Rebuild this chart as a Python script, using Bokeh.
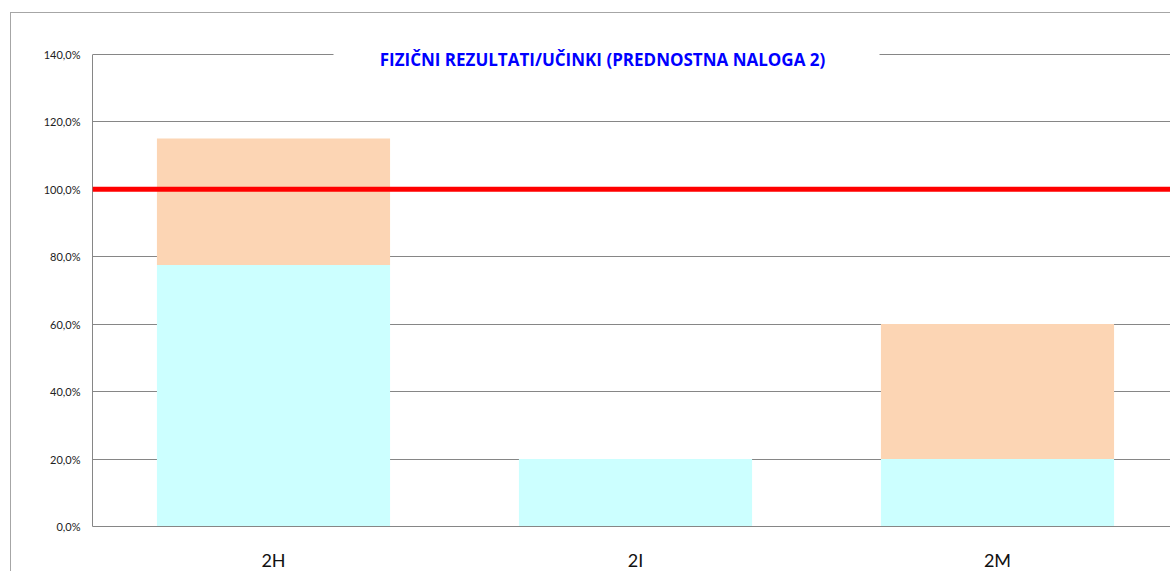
from bokeh.plotting import figure
from bokeh.models import Range1d, FixedTicker, Span, Label, BoxAnnotation, ColumnDataSource, InlineStyleSheet
from bokeh.embed import file_html
from bokeh.resources import INLINE

categories = ["2H", "2I", "2M"]
achieved = [77.5, 20.0, 20.0]
planned_extra = [37.5, 0.0, 40.0]
target = 100.0
y_ticks = [0, 20, 40, 60, 80, 100, 120, 140]
y_tick_labels = ["0,0%", "20,0%", "40,0%", "60,0%", "80,0%", "100,0%", "120,0%", "140,0%"]
title_text = "FIZIČNI REZULTATI/UČINKI (PREDNOSTNA NALOGA 2)"

xpos = [i + 0.5 for i in range(len(categories))]
tops2 = [a + b for a, b in zip(achieved, planned_extra)]
src = ColumnDataSource(dict(x=xpos, a=achieved, top2=tops2, cat=categories))

p = figure(output_backend="svg", toolbar_location=None,
           frame_width=1078, frame_height=506,
           x_range=Range1d(0, 1078 / 362), y_range=Range1d(0, 150),
           min_border_left=92, min_border_right=0, min_border_top=20, min_border_bottom=45)
p.outline_line_color = None
p.background_fill_color = "white"
p.border_fill_color = "white"

p.vbar(x="x", width=0.644, bottom=0, top="a", source=src, color="#CCFFFF", line_color=None)
p.vbar(x="x", width=0.644, bottom="a", top="top2", source=src, color="#FCD5B4", line_color=None)

p.add_layout(Span(location=target, dimension="width", line_color="#FF0000", line_width=5))

# axes
p.xaxis.ticker = FixedTicker(ticks=xpos)
p.xaxis.major_label_overrides = {x: c for x, c in zip(xpos, categories)}
p.xaxis.major_tick_line_color = None
p.xaxis.major_tick_out = 0
p.xaxis.major_tick_in = 0
p.xaxis.minor_tick_line_color = None
p.xaxis.axis_line_color = "#868686"
p.xaxis.major_label_text_font = "Lato"
p.xaxis.major_label_text_font_size = "18px"
p.xaxis.major_label_text_color = "#111111"
p.xaxis.major_label_standoff = 22

p.yaxis.ticker = FixedTicker(ticks=y_ticks)
p.yaxis.bounds = (y_ticks[0], y_ticks[-1])
p.yaxis.major_label_overrides = {t: l for t, l in zip(y_ticks, y_tick_labels)}
p.yaxis.major_tick_line_color = None
p.yaxis.major_tick_out = 0
p.yaxis.major_tick_in = 0
p.yaxis.minor_tick_line_color = None
p.yaxis.axis_line_color = "#868686"
p.yaxis.major_label_text_font = "Lato"
p.yaxis.major_label_text_font_size = "11px"
p.yaxis.major_label_text_color = "#222222"
p.yaxis.major_label_standoff = 12

p.xgrid.grid_line_color = None
p.ygrid.grid_line_color = "#868686"
p.ygrid.grid_line_width = 1

# white box behind the title
p.add_layout(BoxAnnotation(left=(333 - 92) / 362, right=(879 - 92) / 362, bottom=134, top=146,
                           fill_color="white", fill_alpha=1.0, line_color=None, level="overlay"))
p.add_layout(Label(x=(602 - 92) / 362, y=138.4, text=title_text, text_align="center",
                   text_baseline="middle", text_font="Open Sans", text_font_style="bold",
                   text_font_size="17px", text_color="#0000FF", level="overlay"))

# outer chart border (top and left edges visible in the window)
p.stylesheets = [InlineStyleSheet(css="""
:host { position: relative; }
:host::after { content: ''; position: absolute; left: 10px; top: 12px; right: 0; bottom: 0;
  border-left: 1px solid #A6A6A6; border-top: 1px solid #A6A6A6; pointer-events: none; }
""")]

with open("out.html", "w", encoding="utf-8") as f:
    f.write(file_html(p, INLINE))
